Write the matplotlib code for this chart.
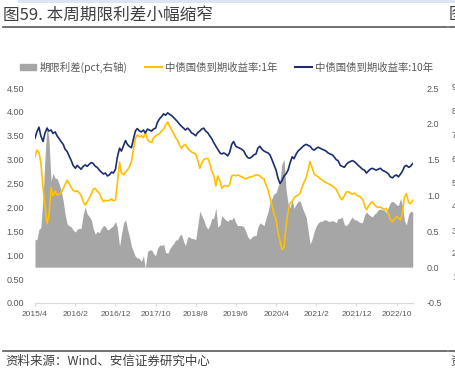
import pandas as pd
import matplotlib
matplotlib.use("Agg")
import matplotlib.pyplot as plt
from matplotlib.patches import Rectangle
from matplotlib.lines import Line2D

plt.rcParams['font.family'] = ['Liberation Sans', 'Noto Sans CJK SC', 'DejaVu Sans']

# semi-monthly dates, 2015/4 .. 2023/2
dates = pd.date_range('2015-04-01', '2023-02-01', freq='SMS')

y10 = [3.45,
       3.58, 3.68, 3.50, 3.38, 3.55, 3.66, 3.60, 3.62, 3.55, 3.58, 3.50, 3.44, 3.38, 3.32, 3.22, 3.17, 3.08, 2.98,
       2.88, 2.82, 2.88, 2.84, 2.80, 2.86, 2.89, 2.86, 2.90, 2.94, 2.92, 2.86, 2.84, 2.78, 2.74, 2.70, 2.72, 2.66, 2.68, 2.74, 2.72, 2.80, 3.05, 3.24,
       3.18, 3.30, 3.40, 3.32, 3.28, 3.25, 3.42, 3.60, 3.65, 3.60, 3.58, 3.62, 3.56, 3.64, 3.62, 3.60, 3.64, 3.66, 3.78, 3.86, 3.90, 3.96, 3.93, 3.98,
       3.95, 3.92, 3.88, 3.84, 3.80, 3.74, 3.70, 3.66, 3.62, 3.66, 3.62, 3.56, 3.54, 3.50, 3.56, 3.60, 3.64, 3.66, 3.60, 3.56, 3.50, 3.44, 3.36, 3.28,
       3.22, 3.14, 3.12, 3.14, 3.12, 3.08, 3.15, 3.32, 3.38, 3.28, 3.26, 3.24, 3.22, 3.18, 3.10, 3.04, 3.03, 3.06, 3.10, 3.12, 3.24, 3.28, 3.22, 3.18,
       3.16, 3.14, 3.10, 3.00, 2.90, 2.78, 2.62, 2.50, 2.56, 2.66, 2.70, 2.78, 2.92, 3.06, 3.02, 3.12, 3.18, 3.22, 3.26, 3.30, 3.32, 3.30, 3.28, 3.22,
       3.20, 3.24, 3.26, 3.24, 3.22, 3.20, 3.18, 3.14, 3.12, 3.10, 3.06, 3.00, 2.98, 2.88, 2.86, 2.84, 2.90, 2.94, 2.96, 2.98, 2.96, 2.92, 2.88, 2.84,
       2.80, 2.78, 2.72, 2.76, 2.80, 2.82, 2.80, 2.78, 2.80, 2.82, 2.78, 2.76, 2.74, 2.70, 2.64, 2.62, 2.66, 2.68, 2.64, 2.70, 2.76, 2.86, 2.88, 2.84,
       2.86, 2.92]

y1 = [3.06,
      3.20, 3.15, 2.95, 2.40, 2.05, 1.67, 1.80, 2.42, 2.24, 2.34, 2.26, 2.28, 2.30, 2.40, 2.48, 2.57, 2.50, 2.42,
      2.36, 2.33, 2.35, 2.30, 2.26, 2.12, 2.05, 2.12, 2.19, 2.28, 2.38, 2.40, 2.34, 2.30, 2.20, 2.12, 2.15, 2.14, 2.15, 2.18, 2.14, 2.16, 2.50, 2.95,
      2.72, 2.68, 2.74, 2.78, 2.84, 2.96, 3.20, 3.45, 3.52, 3.48, 3.50, 3.46, 3.58, 3.42, 3.38, 3.36, 3.45, 3.50, 3.52, 3.55, 3.60, 3.64, 3.72, 3.79,
      3.70, 3.62, 3.55, 3.46, 3.42, 3.30, 3.24, 3.30, 3.32, 3.24, 3.20, 3.16, 3.14, 3.12, 3.00, 2.82, 2.92, 3.00, 3.02, 3.03, 2.92, 2.76, 2.68, 2.45,
      2.66, 2.55, 2.40, 2.45, 2.46, 2.44, 2.48, 2.66, 2.68, 2.66, 2.68, 2.66, 2.64, 2.62, 2.60, 2.62, 2.64, 2.64, 2.66, 2.68, 2.68, 2.66, 2.62, 2.60,
      2.48, 2.36, 2.20, 2.04, 1.88, 1.74, 1.50, 1.30, 1.12, 1.16, 1.60, 1.90, 2.09, 2.12, 2.20, 2.24, 2.26, 2.30, 2.42, 2.54, 2.62, 2.80, 2.96, 2.82,
      2.70, 2.66, 2.64, 2.60, 2.58, 2.54, 2.52, 2.50, 2.48, 2.45, 2.42, 2.38, 2.30, 2.20, 2.16, 2.25, 2.32, 2.33, 2.30, 2.28, 2.30, 2.26, 2.24, 2.22,
      2.18, 2.05, 1.95, 2.02, 2.08, 2.12, 2.06, 2.02, 2.00, 2.01, 1.98, 1.96, 1.98, 1.86, 1.74, 1.70, 1.76, 1.81, 1.78, 1.74, 1.90, 2.22, 2.29, 2.10,
      2.08, 2.15]

df = pd.DataFrame({'y10': y10, 'y1': y1}, index=dates)
df['spread'] = df['y10'] - df['y1']

tick_dates = pd.to_datetime(['2015-04-01', '2016-02-01', '2016-12-01', '2017-10-01', '2018-08-01',
                             '2019-06-01', '2020-04-01', '2021-02-01', '2021-12-01', '2022-10-01'])
left_ticks = [0, 0.5, 1, 1.5, 2, 2.5, 3, 3.5, 4, 4.5]
right_ticks = [-0.5, 0, 0.5, 1, 1.5, 2, 2.5]
# right-edge labels of the neighbouring chart (cut off in the page)
next_ticks = ['90', '80', '70', '60', '50', '40', '30', '20', '10']

GRAY = '#a6a6a6'
YEL = '#ffc000'
NAVY = '#1b2f6e'
TXT = '#595959'

W, H = 456, 376
fig = plt.figure(figsize=(W / 100, H / 100), dpi=100)

ax = fig.add_axes([35 / W, 1 - 303 / H, (413 - 35) / W, (303 - 88) / H])
ax2 = ax.twinx()
ax.set_zorder(ax2.get_zorder() + 1)
ax.patch.set_visible(False)

ax2.fill_between(df.index, 0, df['spread'], color=GRAY, lw=0)
ax.plot(df.index, df['y1'], color=YEL, lw=1.2)
ax.plot(df.index, df['y10'], color=NAVY, lw=1.2)

ax.set_xlim(dates[0], dates[-1] + pd.Timedelta(days=2))
ax.set_ylim(0, 4.5)
ax2.set_ylim(-0.5, 2.5)
ax.set_yticks(left_ticks)
ax.set_yticklabels(['%.2f' % v for v in left_ticks])
ax2.set_yticks(right_ticks)
ax2.set_yticklabels(['%.1f' % v for v in right_ticks])
ax.set_xticks(tick_dates)
ax.set_xticklabels([f'{d.year}/{d.month}' for d in tick_dates])

for a in (ax, ax2):
    for s in a.spines.values():
        s.set_visible(False)
ax.spines['bottom'].set_visible(True)
ax.spines['bottom'].set_color('#d9d9d9')
ax.spines['bottom'].set_linewidth(0.8)
ax.tick_params(axis='y', length=0, pad=8, labelsize=6.5, labelcolor=TXT)
ax.tick_params(axis='x', length=2, color='#d9d9d9', pad=4, labelsize=6, labelcolor=TXT)
ax2.tick_params(axis='y', length=0, pad=10, labelsize=6.5, labelcolor=TXT)

# legend
handles = [Rectangle((0, 0), 1, 1, color=GRAY),
           Line2D([], [], color=YEL, lw=1.5),
           Line2D([], [], color=NAVY, lw=1.5)]
labels = ['期限利差(pct,右轴)', '中债国债到期收益率:1年', '中债国债到期收益率:10年']
fig.legend(handles, labels, loc='center', bbox_to_anchor=(0.496, 1 - 67 / H), ncol=3,
           frameon=False, labelcolor=TXT, handlelength=1.6,
           handleheight=0.5, handletextpad=0.3, columnspacing=1.7,
           prop={'family': ['Noto Sans CJK SC'], 'size': 7.5})

# page decorations
fig.patches.append(Rectangle((18 / W, 1 - 3 / H), 1, 3 / H, transform=fig.transFigure,
                             color='#dce6f2', lw=0))
fig.text(3 / W, 1 - 15 / H, '图59. 本周期限利差小幅缩窄', family=['Noto Sans CJK SC'],
         fontsize=12, color='#404040', va='center', ha='left')
fig.text(449 / W, 1 - 15 / H, '图', family=['Noto Sans CJK SC'],
         fontsize=12, color='#404040', va='center', ha='left')
for yy in (27, 351):
    fig.add_artist(Line2D([3 / W, 447 / W], [1 - yy / H] * 2, color='#595959', lw=1.2))
    fig.add_artist(Line2D([449 / W, 1], [1 - yy / H] * 2, color='#595959', lw=1.2))
fig.text(5 / W, 1 - 361 / H, '资料来源：Wind、安信证券研究中心', family=['Noto Sans CJK SC'],
         fontsize=9, color='#404040', va='center', ha='left')
fig.text(450 / W, 1 - 361 / H, '资', family=['Noto Sans CJK SC'],
         fontsize=9, color='#404040', va='center', ha='left')
for lab, yy in zip(next_ticks, [87, 112, 135, 159, 183, 207, 231, 254, 278]):
    fig.text(452 / W, 1 - yy / H, lab, fontsize=6.5, color=TXT, va='center', ha='left')

fig.savefig('out.png', dpi=100, facecolor='white')
